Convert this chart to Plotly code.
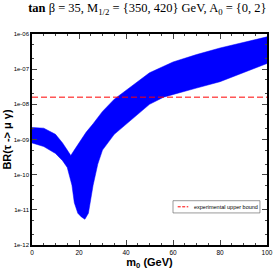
import plotly.graph_objects as go

# upper envelope of the band
m0_upper = [0, 5, 10, 13, 15, 16.5, 18, 20, 23, 26, 30, 35, 40, 50, 60, 70, 80, 90, 100]
br_upper = [2.2e-9, 2.1e-9, 1.4e-9, 8.0e-10, 5.0e-10, 3.5e-10, 5.0e-10, 8.0e-10, 1.6e-9,
            2.8e-9, 6.3e-9, 1.4e-8, 2.5e-8, 7.9e-8, 1.6e-7, 2.6e-7, 4.0e-7, 5.9e-7, 8.3e-7]
# lower envelope of the band
m0_lower = [0, 5, 10, 13, 15, 17, 18, 19.5, 21, 22.5, 24, 25, 26, 28, 30, 35, 40, 50, 56, 60, 70, 80, 90, 100]
br_lower = [8.0e-10, 6.3e-10, 4.0e-10, 2.5e-10, 1.6e-10, 5.0e-11, 1.6e-11, 8.0e-12, 6.3e-12,
            5.4e-12, 8.0e-12, 2.0e-11, 5.0e-11, 2.0e-10, 5.0e-10, 1.4e-9, 2.8e-9, 1.0e-8,
            1.6e-8, 1.9e-8, 2.9e-8, 4.4e-8, 7.9e-8, 1.45e-7]
exp_bound = 1.6e-8
legend_label = "experimental upper bound"

ytick_vals = [1e-12, 1e-11, 1e-10, 1e-9, 1e-8, 1e-7, 1e-6]
ytick_text = ["1e-12", "1e-11", "1e-10", "1e-09", "1e-08", "1e-07", "1e-06"]
xtick_vals = [0, 20, 40, 60, 80, 100]

fig = go.Figure()
fig.add_trace(go.Scatter(
    x=m0_upper + m0_lower[::-1], y=br_upper + br_lower[::-1],
    fill="toself", fillcolor="#0000ff", line=dict(color="#0000ff", width=0.5),
    mode="lines", showlegend=False, hoverinfo="skip"))
fig.add_trace(go.Scatter(
    x=[0, 100], y=[exp_bound, exp_bound], mode="lines",
    line=dict(color="#ff0000", width=1, dash="6px,3px"),
    name=legend_label, showlegend=False))

# legend box drawn by hand (compact, like the reference)
fig.add_shape(type="rect", xref="paper", yref="paper",
              x0=0.6, x1=0.97, y0=0.152, y1=0.21,
              line=dict(color="#555555", width=0.6), fillcolor="white")
fig.add_shape(type="line", xref="paper", yref="paper",
              x0=0.62, x1=0.665, y0=0.181, y1=0.181,
              line=dict(color="#ff0000", width=1, dash="3px,1.5px"))
fig.add_annotation(xref="paper", yref="paper", x=0.68, y=0.181,
                   text=legend_label, showarrow=False, xanchor="left", yanchor="middle",
                   font=dict(size=5.5, color="black"))

fig.update_layout(
    width=273, height=273,
    margin=dict(l=32, r=6, t=34, b=28),
    paper_bgcolor="white", plot_bgcolor="white",
    font=dict(family="Liberation Sans, Arial", size=7, color="black"),
    title=dict(text="<b>tan</b> β = 35, M<sub>1/2</sub> = {350, 420} GeV, A<sub>0</sub> = {0, 2}",
               font=dict(family="Liberation Serif, Times New Roman", size=12.5, color="black"),
               x=0.54, xanchor="center", y=0.972, yanchor="middle"),
    showlegend=False,
)
fig.update_xaxes(range=[0, 100], tickvals=xtick_vals, ticks="inside", ticklen=5,
                 showline=True, linecolor="black", linewidth=1.5, mirror="ticks",
                 showgrid=False, zeroline=False, tickfont=dict(size=6.5), automargin=False,
                 minor=dict(ticks="inside", ticklen=2.5, dtick=5, showgrid=False),
                 title=dict(text="<b>m<sub>0</sub> (GeV)</b>", font=dict(size=11), standoff=0))
fig.update_yaxes(type="log", range=[-12, -6], tickvals=ytick_vals, ticktext=ytick_text,
                 ticks="inside", ticklen=5, automargin=False,
                 showline=True, linecolor="black", linewidth=1.5, mirror="ticks",
                 showgrid=False, zeroline=False, tickfont=dict(size=6),
                 minor=dict(ticks="inside", ticklen=2.5, showgrid=False),
                 title=dict(text="<b>BR(τ -> μ γ)</b>", font=dict(size=11), standoff=0))

fig.write_html("out.html", config={"displayModeBar": False},
               post_script="document.body.style.margin='0px';")
